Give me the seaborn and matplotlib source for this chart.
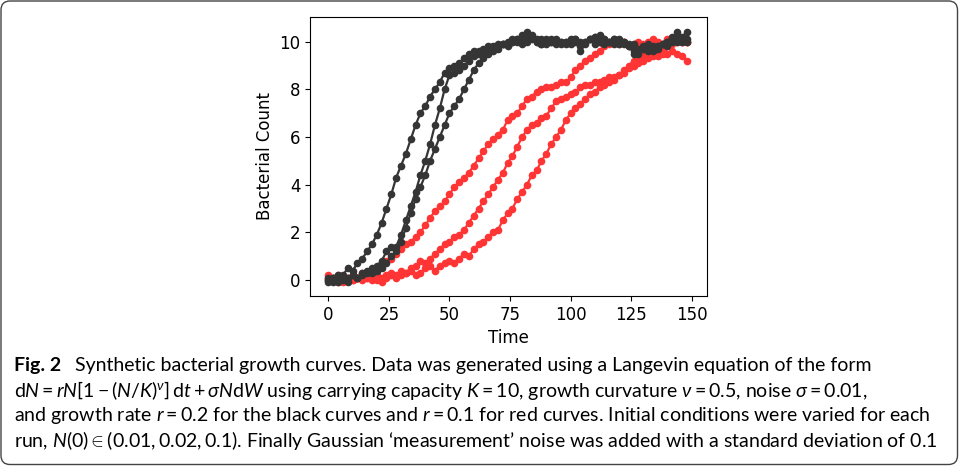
import matplotlib
matplotlib.use('Agg')
import matplotlib.pyplot as plt
import seaborn as sns
import pandas as pd
from matplotlib.patches import FancyBboxPatch
from matplotlib.transforms import IdentityTransform

# time points (every second step of the simulation)
time = list(range(0, 150, 2))

# fast growth runs, r = 0.2 (black)
black_1 = [0.0, 0.1, -0.1, 0.2, 0.5, 0.4, 0.7, 0.9, 1.2, 1.5, 1.9, 2.4, 3.0, 3.6, 4.3, 4.8, 5.3, 5.9,
           6.5, 7.0, 7.3, 7.7, 8.0, 8.3, 8.7, 8.9, 9.0, 9.1, 9.3, 9.5, 9.6, 9.6, 9.7, 9.8, 9.8, 9.9,
           9.9, 10.0, 10.1, 10.0, 10.3, 10.2, 10.1, 10.0, 9.9, 10.0, 10.1, 9.9, 10.0, 10.0, 9.9, 10.1,
           10.0, 9.9, 10.1, 10.2, 10.0, 9.9, 10.0, 10.1, 9.9, 10.0, 9.8, 9.9, 9.7, 9.8, 9.9, 9.7, 9.8,
           9.9, 10.0, 10.2, 10.0, 10.1, 10.0]
black_2 = [0.1, -0.1, 0.2, 0.0, 0.1, 0.2, 0.1, 0.3, 0.4, 0.5, 0.6, 0.8, 1.2, 1.4, 1.4, 1.9, 2.5, 3.1,
           3.7, 4.4, 5.0, 5.7, 6.5, 7.2, 8.0, 8.6, 8.7, 8.8, 9.0, 9.2, 9.4, 9.5, 9.6, 9.7, 9.7, 9.8,
           9.9, 9.9, 10.0, 10.1, 9.9, 10.4, 10.2, 10.1, 9.9, 10.1, 10.0, 10.0, 9.9, 10.0, 10.1, 10.0,
           9.8, 10.0, 10.1, 9.9, 10.3, 10.1, 10.0, 9.9, 10.1, 10.0, 9.8, 9.6, 9.5, 9.7, 9.6, 9.8, 9.7,
           9.9, 9.8, 10.0, 10.4, 10.2, 10.4]
black_3 = [-0.1, 0.1, 0.0, 0.1, -0.1, 0.2, 0.1, 0.2, 0.3, 0.3, 0.4, 0.5, 0.7, 1.0, 1.2, 1.6, 2.2, 2.8,
           3.4, 3.9, 4.4, 5.0, 5.5, 6.0, 6.5, 7.0, 7.3, 7.6, 8.0, 8.4, 8.8, 9.1, 9.3, 9.5, 9.6, 9.7,
           9.9, 9.8, 10.0, 10.1, 10.2, 10.0, 10.3, 10.0, 10.1, 9.9, 10.0, 10.1, 10.0, 9.9, 10.0, 10.1,
           9.6, 10.0, 10.1, 10.2, 10.0, 10.1, 10.0, 10.1, 10.0, 9.9, 9.9, 9.5, 9.6, 9.7, 9.8, 9.6, 9.8,
           9.9, 10.0, 10.1, 10.3, 10.0, 10.1]

# slow growth runs, r = 0.1 (red)
red_1 = [0.1, 0.0, 0.2, 0.1, 0.0, 0.2, 0.1, 0.3, 0.3, 0.4, 0.5, 0.7, 0.8, 0.9, 1.1, 1.3, 1.5, 1.6,
         1.8, 2.0, 2.3, 2.6, 2.9, 3.1, 3.3, 3.6, 3.9, 4.1, 4.3, 4.5, 4.8, 5.1, 5.4, 5.7, 5.9, 6.1,
         6.3, 6.7, 6.9, 7.0, 7.3, 7.6, 7.7, 7.9, 8.0, 8.1, 8.1, 8.2, 8.3, 8.3, 8.5, 8.8, 9.0, 9.2,
         9.3, 9.5, 9.6, 9.8, 9.9, 10.0, 9.9, 10.0, 9.8, 9.9, 10.0, 9.9, 10.0, 10.1, 10.0, 9.9, 10.1,
         10.0, 10.1, 10.0, 10.0]
red_2 = [0.2, 0.1, -0.1, 0.0, 0.1, 0.0, 0.1, 0.2, 0.1, 0.0, 0.2, 0.1, 0.2, 0.3, 0.2, 0.4, 0.3, 0.5,
         0.6, 0.8, 0.7, 0.9, 1.1, 1.3, 1.5, 1.6, 1.8, 1.9, 2.1, 2.4, 2.7, 3.0, 3.3, 3.6, 3.9, 4.2,
         4.5, 4.9, 5.2, 5.6, 6.0, 6.3, 6.5, 6.6, 6.8, 6.9, 7.2, 7.5, 7.6, 7.7, 7.8, 7.9, 8.1, 8.2,
         8.2, 8.3, 8.3, 8.4, 8.5, 8.5, 8.6, 8.8, 9.0, 9.2, 9.3, 9.4, 9.5, 9.5, 9.6, 9.7, 9.8, 9.9,
         10.0, 10.0, 10.0]
red_3 = [0.0, 0.1, 0.0, -0.1, 0.1, 0.0, 0.1, 0.0, 0.1, 0.2, 0.0, -0.1, 0.1, 0.2, 0.1, 0.2, 0.3, 0.4,
         0.2, 0.3, 0.5, 0.6, 0.4, 0.6, 0.7, 0.8, 0.7, 0.9, 1.1, 1.0, 1.3, 1.5, 1.6, 1.8, 2.0, 2.1,
         2.5, 2.8, 3.0, 3.4, 3.7, 4.0, 4.4, 4.6, 5.0, 5.3, 5.7, 6.0, 6.3, 6.7, 7.0, 7.2, 7.4, 7.6,
         7.8, 7.9, 8.1, 8.2, 8.3, 8.4, 8.6, 8.7, 8.9, 9.0, 9.1, 9.2, 9.3, 9.4, 9.4, 9.5, 9.5, 9.6,
         9.5, 9.4, 9.2]

runs = [('red_1', 'r=0.1', red_1), ('red_2', 'r=0.1', red_2), ('red_3', 'r=0.1', red_3),
        ('black_1', 'r=0.2', black_1), ('black_2', 'r=0.2', black_2), ('black_3', 'r=0.2', black_3)]
df = pd.concat([pd.DataFrame({'Time': time, 'Bacterial Count': vals, 'run': name, 'rate': rate})
                for name, rate, vals in runs], ignore_index=True)

fig = plt.figure(figsize=(9.59, 4.66), dpi=100)
ax = fig.add_axes([0.3236, 0.3648, 0.4139, 0.5994])

sns.lineplot(data=df, x='Time', y='Bacterial Count', hue='rate', units='run',
             estimator=None, sort=False, hue_order=['r=0.1', 'r=0.2'],
             palette={'r=0.1': '#ff3535', 'r=0.2': '#353535'},
             marker='o', markersize=5.5, markeredgewidth=0, linewidth=1.6,
             legend=False, ax=ax)

ax.set_xlim(-7.45, 156.45)
ax.set_ylim(-0.67, 11.05)
ax.set_xticks([0, 25, 50, 75, 100, 125, 150])
ax.set_yticks([0, 2, 4, 6, 8, 10])
ax.tick_params(labelsize=12)
ax.set_xlabel('Time', fontsize=12)
ax.set_ylabel('Bacterial Count', fontsize=12)

# caption below the figure
plt.rcParams['mathtext.fontset'] = 'custom'
plt.rcParams['mathtext.rm'] = 'Lato'
plt.rcParams['mathtext.it'] = 'Lato:italic'
cap = dict(fontsize=14, family=['Lato', 'DejaVu Sans'], va='center', ha='left')
W, H = 959, 466
fig.text(14 / W, 1 - 365 / H, 'Fig. 2', fontweight='bold', **cap)
fig.text(75 / W, 1 - 365 / H,
         'Synthetic bacterial growth curves. Data was generated using a Langevin equation of the form', **cap)
fig.text(14 / W, 1 - 391 / H,
         r'd$N = rN\left[1-(N/K)^{\nu}\right]\,$d$t + \sigma N$d$W$ using carrying capacity $K = 10$, '
         r'growth curvature $\nu = 0.5$, noise $\sigma = 0.01$,', **cap)
fig.text(14 / W, 1 - 416 / H,
         r'and growth rate $r = 0.2$ for the black curves and $r = 0.1$ for red curves. '
         r'Initial conditions were varied for each', **cap)
fig.text(14 / W, 1 - 441 / H,
         r'run, $N(0) \in (0.01, 0.02, 0.1)$. Finally Gaussian ‘measurement’ noise was added '
         r'with a standard deviation of 0.1', **cap)

# rounded frame around the whole panel
frame = FancyBboxPatch((1.0, 1.5), 956.5, 463.5, boxstyle='round,pad=0,rounding_size=9',
                       fill=False, ec='#444444', lw=1.0, transform=IdentityTransform())
fig.add_artist(frame)

fig.savefig('out.png', dpi=100)
